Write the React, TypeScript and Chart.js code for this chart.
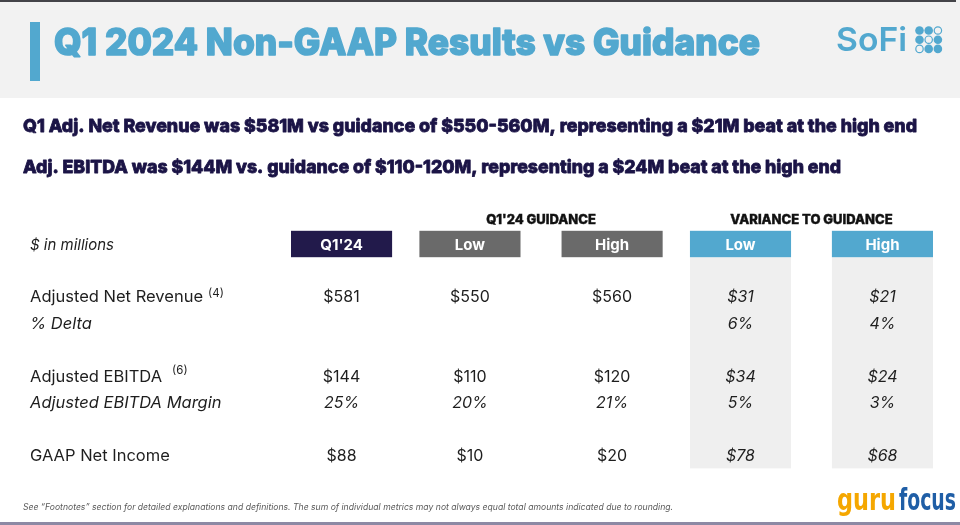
import React, { useEffect, useRef } from "react";
import { Chart, registerables } from "chart.js";

Chart.register(...registerables);

// ---------- content ----------
const TITLE = "Q1 2024 Non-GAAP Results vs Guidance";
const BRAND = "SoFi";
const HEADLINES = [
  "Q1 Adj. Net Revenue was $581M vs guidance of $550-560M, representing a $21M beat at the high end",
  "Adj. EBITDA was $144M vs. guidance of $110-120M, representing a $24M beat at the high end",
];
const UNITS_LABEL = "$ in millions";
const GROUP_HEADERS = ["Q1'24 GUIDANCE", "VARIANCE TO GUIDANCE"];
const COLUMN_HEADERS = ["Q1'24", "Low", "High", "Low", "High"];
const METRICS = [
  "Adjusted Net Revenue",
  "% Delta",
  "Adjusted EBITDA",
  "Adjusted EBITDA Margin",
  "GAAP Net Income",
];
const METRIC_NOTES = ["(4)", "", "(6)", "", ""];
const Q1_ACTUAL = ["$581", "", "$144", "25%", "$88"];
const GUIDANCE_LOW = ["$550", "", "$110", "20%", "$10"];
const GUIDANCE_HIGH = ["$560", "", "$120", "21%", "$20"];
const VARIANCE_LOW = ["$31", "6%", "$34", "5%", "$78"];
const VARIANCE_HIGH = ["$21", "4%", "$24", "3%", "$68"];
const FOOTNOTE =
  "See \u201cFootnotes\u201d section for detailed explanations and definitions. The sum of individual metrics may not always equal total amounts indicated due to rounding.";
const WATERMARK_A = "guru";
const WATERMARK_B = "focus";

// ---------- layout / style (not data) ----------
const COLUMNS = [Q1_ACTUAL, GUIDANCE_LOW, GUIDANCE_HIGH, VARIANCE_LOW, VARIANCE_HIGH];
const ROW_SLOTS = [2, 3, 5, 6, 8]; // slot in the y category scale for each metric
const Y_LABELS = ["header", "", METRICS[0], METRICS[1], " ", METRICS[2], METRICS[3], "  ", METRICS[4]];
const COL_START = [0, 1.27, 2.676, 3.946, 5.35]; // in box-width units
const X_MAX = 6.35;
const GROUP_SPANS = [
  [1, 2],
  [3, 4],
];
const HEADER_COLORS = ["#221a4b", "#6a6a6a", "#6a6a6a", "#52a8cf", "#52a8cf"];
const SHADED_COLUMNS = [false, false, false, true, true];
const ITALIC_COLUMNS = [false, false, false, true, true];
const ITALIC_ROWS = [false, true, false, true, false];
const NOTE_GAP = [5, 0, 10, 0, 0];
const NOTE_RISE = [5, 0, 8, 0, 0];
const BLUE = "#52a8cf";
const NAVY = "#1b1446";
const INK = "#1e1e1e";
const FONT = "Inter, 'Open Sans', sans-serif";

function fillFit(
  ctx: CanvasRenderingContext2D,
  text: string,
  x: number,
  y: number,
  width: number,
  stroke = 0
) {
  const w = ctx.measureText(text).width;
  ctx.save();
  ctx.translate(x, y);
  ctx.scale(width / w, 1);
  ctx.textAlign = "left";
  ctx.fillText(text, 0, 0);
  if (stroke > 0) {
    ctx.strokeStyle = ctx.fillStyle as string;
    ctx.lineWidth = stroke;
    ctx.lineJoin = "round";
    ctx.strokeText(text, 0, 0);
  }
  ctx.restore();
}

const slidePlugin = {
  id: "slideTable",
  beforeDraw(chart: any) {
    const { ctx, width, height } = chart;
    ctx.save();
    ctx.fillStyle = "#ffffff";
    ctx.fillRect(0, 0, width, height);
    ctx.fillStyle = "#f2f2f2";
    ctx.fillRect(0, 0, width, 98);
    ctx.fillStyle = "#444449";
    ctx.fillRect(0, 0, 956, 2);
    ctx.fillStyle = BLUE;
    ctx.fillRect(30, 22, 10, 59);
    ctx.fillStyle = "#8d89a4";
    ctx.fillRect(0, 522, width, 3);
    ctx.restore();
  },
  afterDraw(chart: any) {
    const { ctx, chartArea } = chart;
    const xs = chart.scales.x;
    const ys = chart.scales.y;
    ctx.save();
    ctx.textBaseline = "alphabetic";

    // title
    ctx.fillStyle = BLUE;
    ctx.font = `800 37px ${FONT}`;
    fillFit(ctx, TITLE, 54, 55, 706, 1.6);

    // brand
    ctx.font = `600 33px ${FONT}`;
    fillFit(ctx, BRAND, 836, 51, 71);
    const dots = ["ffo", "fof", "off"];
    dots.forEach((row, r) => {
      row.split("").forEach((c, k) => {
        const cx = 919.5 + k * 9.2;
        const cy = 30.5 + r * 9.2;
        ctx.beginPath();
        if (c === "f") {
          ctx.arc(cx, cy, 4.3, 0, Math.PI * 2);
          ctx.fillStyle = BLUE;
          ctx.fill();
        } else {
          ctx.arc(cx, cy, 3.7, 0, Math.PI * 2);
          ctx.strokeStyle = BLUE;
          ctx.lineWidth = 1.2;
          ctx.stroke();
        }
      });
    });

    // headlines
    ctx.fillStyle = NAVY;
    ctx.font = `800 18px ${FONT}`;
    fillFit(ctx, HEADLINES[0], 23, 131.5, 894, 0.8);
    fillFit(ctx, HEADLINES[1], 23, 173.3, 818, 0.8);

    // header row
    const band = ys.getPixelForValue(1) - ys.getPixelForValue(0);
    const headTop = ys.getPixelForValue(0) - band / 2;
    const headBot = headTop + band;
    const headMid = ys.getPixelForValue(0);

    COLUMN_HEADERS.forEach((h, i) => {
      const l = xs.getPixelForValue(COL_START[i]);
      const r = xs.getPixelForValue(COL_START[i] + 1);
      if (SHADED_COLUMNS[i]) {
        ctx.fillStyle = "#efefef";
        ctx.fillRect(l, headBot, r - l, chartArea.bottom - headBot);
      }
      ctx.fillStyle = HEADER_COLORS[i];
      ctx.fillRect(l, headTop, r - l, band);
      ctx.fillStyle = "#ffffff";
      ctx.font = `700 15px ${FONT}`;
      ctx.textAlign = "center";
      ctx.fillText(h, (l + r) / 2, headMid + 6);
    });

    // group headers
    ctx.fillStyle = "#111111";
    ctx.font = `800 13px ${FONT}`;
    ctx.textAlign = "center";
    ctx.strokeStyle = "#111111";
    ctx.lineWidth = 0.4;
    GROUP_HEADERS.forEach((g, i) => {
      const [a, b] = GROUP_SPANS[i];
      const l = xs.getPixelForValue(COL_START[a]);
      const r = xs.getPixelForValue(COL_START[b] + 1);
      ctx.fillText(g, (l + r) / 2, headTop - 7);
      ctx.strokeText(g, (l + r) / 2, headTop - 7);
    });

    // units label
    ctx.textAlign = "left";
    ctx.fillStyle = INK;
    ctx.font = `italic 400 15px ${FONT}`;
    ctx.fillText(UNITS_LABEL, 30, headMid + 6);

    // metric rows
    METRICS.forEach((m, j) => {
      const y = ys.getPixelForValue(ROW_SLOTS[j]) + 5.5;
      ctx.textAlign = "left";
      ctx.fillStyle = INK;
      ctx.font = `${ITALIC_ROWS[j] ? "italic " : ""}400 16.5px ${FONT}`;
      ctx.fillText(m, 30, y);
      if (METRIC_NOTES[j]) {
        const w = ctx.measureText(m).width;
        ctx.font = `400 11.5px ${FONT}`;
        ctx.fillText(METRIC_NOTES[j], 30 + w + NOTE_GAP[j], y - NOTE_RISE[j]);
      }
      COLUMNS.forEach((col, i) => {
        const v = col[j];
        if (!v) return;
        const cx = xs.getPixelForValue(COL_START[i] + 0.5);
        ctx.textAlign = "center";
        ctx.font = `${ITALIC_COLUMNS[i] || ITALIC_ROWS[j] ? "italic " : ""}400 16px ${FONT}`;
        ctx.fillText(v, cx, y);
      });
    });

    // footnote
    ctx.fillStyle = "#5a5a5a";
    ctx.font = `italic 400 9px ${FONT}`;
    fillFit(ctx, FOOTNOTE, 23, 509.5, 650);

    // watermark
    ctx.font = `700 30px 'DejaVu Sans', sans-serif`;
    ctx.fillStyle = "#f5a700";
    fillFit(ctx, WATERMARK_A, 837, 509.5, 59);
    ctx.fillStyle = "#1f5ea6";
    fillFit(ctx, WATERMARK_B, 899, 509.5, 57);

    ctx.restore();
  },
};

export default function App() {
  const ref = useRef<HTMLCanvasElement | null>(null);
  useEffect(() => {
    document.body.style.margin = "0";
    const canvas = ref.current;
    if (!canvas) return;
    const chart = new Chart(canvas, {
      type: "scatter",
      data: { datasets: [] },
      options: {
        animation: false,
        responsive: true,
        maintainAspectRatio: false,
        layout: { padding: { left: 291, right: 27, top: 230.8, bottom: 56.6 } },
        plugins: { legend: { display: false }, tooltip: { enabled: false }, title: { display: false } },
        scales: {
          x: { type: "linear", min: 0, max: X_MAX, display: false },
          y: { type: "category", labels: Y_LABELS, offset: true, display: false },
        },
      },
      plugins: [slidePlugin],
    } as any);
    return () => chart.destroy();
  }, []);
  return (
    <div style={{ position: "absolute", left: 0, top: 0, width: 960, height: 525 }}>
      <canvas ref={ref} />
    </div>
  );
}
